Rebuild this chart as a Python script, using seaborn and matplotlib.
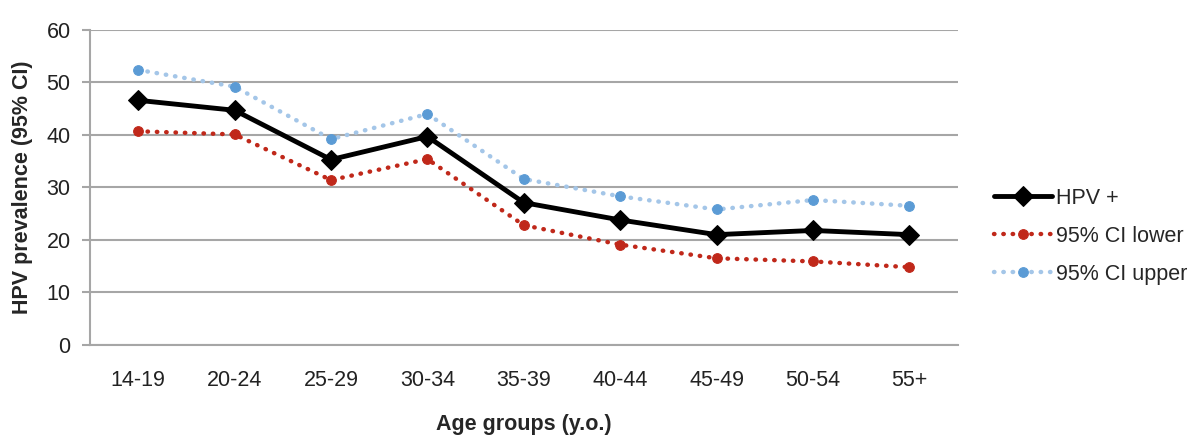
import matplotlib

matplotlib.use("Agg")
import matplotlib.pyplot as plt
import numpy as np
import pandas as pd
import seaborn as sns

# Data
age_groups = ["14-19", "20-24", "25-29", "30-34", "35-39",
              "40-44", "45-49", "50-54", "55+"]
hpv_pos = [46.6, 44.7, 35.3, 39.7, 27.1, 23.8, 21.0, 21.8, 21.0]
ci_lower = [40.7, 40.1, 31.4, 35.4, 22.8, 19.1, 16.5, 15.9, 14.8]
ci_upper = [52.4, 49.2, 39.2, 44.0, 31.6, 28.3, 25.8, 27.6, 26.5]

df = pd.DataFrame({
    "age": age_groups,
    "pos": np.arange(len(age_groups)),
    "HPV +": hpv_pos,
    "95% CI lower": ci_lower,
    "95% CI upper": ci_upper,
})

sns.set_style("white")
plt.rcParams["font.family"] = ["Liberation Sans", "DejaVu Sans"]

FS = 15.5
GRID = "#A6A6A6"

fig = plt.figure(figsize=(12, 4.41), dpi=100)
ax = fig.add_axes([0.075, 0.218, 0.723, 0.714])

# --- series ---
sns.lineplot(data=df, x="pos", y="95% CI upper", ax=ax, color="#A4C6E8",
             linewidth=3.2, linestyle=(0, (0.1, 2.0)), dash_capstyle="round",
             marker="o", markersize=7, markerfacecolor="#5B9BD5",
             markeredgecolor="#5B9BD5", label="95% CI upper", zorder=3)
sns.lineplot(data=df, x="pos", y="95% CI lower", ax=ax, color="#C0281A",
             linewidth=3.2, linestyle=(0, (0.1, 2.0)), dash_capstyle="round",
             marker="o", markersize=7, markerfacecolor="#C0281A",
             markeredgecolor="#C0281A", label="95% CI lower", zorder=3)
sns.lineplot(data=df, x="pos", y="HPV +", ax=ax, color="black",
             linewidth=3.5, marker="D", markersize=10, markerfacecolor="black",
             markeredgecolor="black", label="HPV +", zorder=4)

# --- axes ---
ax.set_xlim(-0.5, len(age_groups) - 0.5)
ax.set_ylim(0, 60)
ax.set_yticks(range(0, 61, 10))
ax.yaxis.grid(True, color=GRID, linewidth=1.5)
ax.set_axisbelow(True)

ax.set_xticks(df["pos"])
ax.set_xticklabels(age_groups)
ax.set_xticks(np.arange(-0.5, len(age_groups)), minor=True)
ax.tick_params(axis="x", which="major", length=0, pad=18, labelsize=FS,
               colors="#222222")
ax.tick_params(axis="x", which="minor", length=7, width=1.5, color=GRID,
               direction="out")
ax.tick_params(axis="y", length=6, width=1.5, color=GRID, pad=8,
               labelsize=FS, labelcolor="#222222", direction="out", left=True)

for side in ["top", "right"]:
    ax.spines[side].set_visible(False)
for side in ["left", "bottom"]:
    ax.spines[side].set_color(GRID)
    ax.spines[side].set_linewidth(1.5)

ax.set_xlabel("Age groups (y.o.)", fontsize=FS, fontweight="bold", labelpad=17)
ax.set_ylabel("HPV prevalence (95% CI)", fontsize=FS, fontweight="bold",
              labelpad=10)

# --- legend ---
handles, labels = ax.get_legend_handles_labels()
order = [labels.index(l) for l in ["HPV +", "95% CI lower", "95% CI upper"]]
ax.legend([handles[i] for i in order], [labels[i] for i in order],
          loc="center left", bbox_to_anchor=(1.032, 0.345), frameon=False,
          fontsize=FS, handlelength=2.7, handletextpad=0.2,
          labelspacing=0.78, borderaxespad=0)

fig.savefig("out.png", dpi=100)
